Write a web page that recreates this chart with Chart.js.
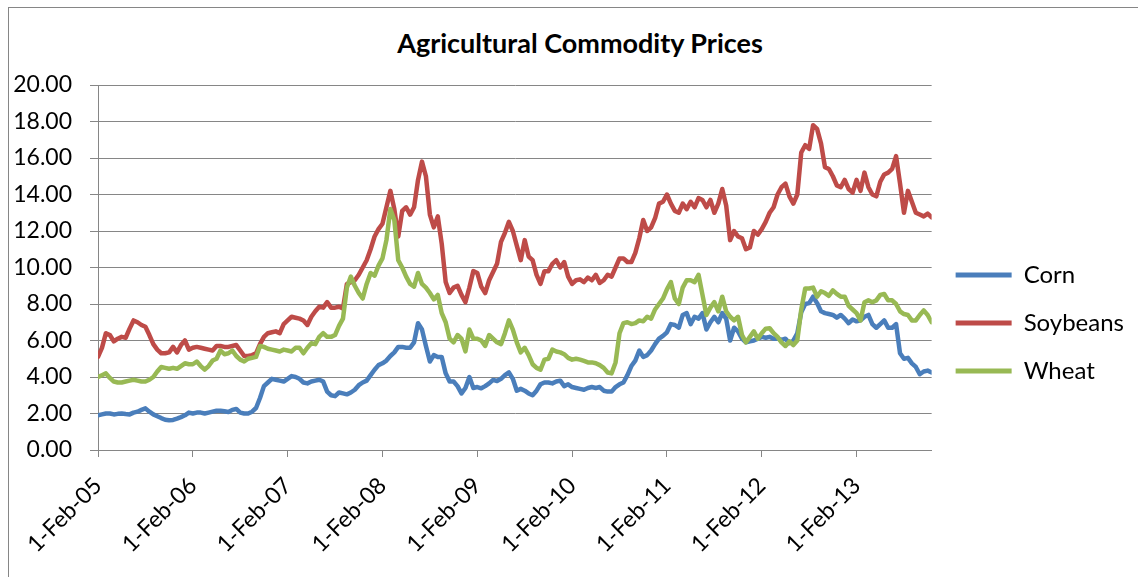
<!DOCTYPE html>
<html>
<head>
<meta charset="utf-8">
<title>Agricultural Commodity Prices</title>
<script src="https://cdn.jsdelivr.net/npm/chart.js@4.4.1/dist/chart.umd.min.js"></script>
<style>
  html, body { margin: 0; padding: 0; background: #fff; overflow: hidden; }
  #wrap { position: relative; width: 1138px; height: 577px; overflow: hidden; }
  #frame { position: absolute; left: 8px; top: 7px; width: 1140px; height: 580px;
           border: 1px solid #868686; box-sizing: border-box; }
  #title { position: absolute; left: 0; top: 29px; width: 1160px; text-align: center;
           font: bold 27px Lato, "Open Sans", sans-serif; line-height: 27px; color: #000; }
  #chart { position: absolute; left: 0; top: 0; }
</style>
</head>
<body>
<div id="wrap">
  <div id="frame"></div>
  <div id="title">Agricultural Commodity Prices</div>
  <canvas id="chart" width="1138" height="577"></canvas>
</div>
<script>
'use strict';

// one value every half month, starting 1-Feb-05
var seriesNames = ['Corn', 'Soybeans', 'Wheat'];

var corn = [
    1.9, 1.95, 2.0, 2.0, 1.95, 1.98, 2.0, 1.97, 1.95, 2.05,
    2.1, 2.2, 2.28, 2.1, 1.95, 1.85, 1.75, 1.66, 1.63, 1.65,
    1.72, 1.8, 1.9, 2.05, 2.0, 2.05, 2.05, 2.0, 2.05, 2.1,
    2.15, 2.15, 2.12, 2.08, 2.2, 2.25, 2.05, 2.0, 2.0, 2.1,
    2.3, 2.85, 3.5, 3.7, 3.9, 3.85, 3.8, 3.75, 3.9, 4.05,
    4.0, 3.9, 3.7, 3.65, 3.75, 3.8, 3.85, 3.75, 3.2, 3.0,
    2.95, 3.15, 3.1, 3.05, 3.15, 3.3, 3.55, 3.7, 3.8, 4.1,
    4.4, 4.65, 4.75, 4.9, 5.15, 5.35, 5.65, 5.65, 5.6, 5.6,
    5.9, 6.95, 6.6, 5.7, 4.85, 5.2, 5.1, 5.1, 4.2, 3.75,
    3.75, 3.5, 3.1, 3.4, 4.0, 3.4, 3.45, 3.38, 3.5, 3.65,
    3.84, 3.78, 3.9, 4.1, 4.25, 3.9, 3.25, 3.35, 3.25, 3.1,
    3.0, 3.25, 3.6, 3.7, 3.7, 3.65, 3.75, 3.8, 3.5, 3.6,
    3.45, 3.4, 3.35, 3.3, 3.4, 3.45, 3.4, 3.45, 3.25, 3.2,
    3.2, 3.45, 3.6, 3.7, 4.1, 4.6, 4.9, 5.45, 5.1, 5.2,
    5.45, 5.8, 6.1, 6.25, 6.45, 6.9, 6.85, 6.7, 7.4, 7.5,
    6.9, 7.3, 7.2, 7.5, 6.6, 7.0, 7.3, 7.0, 7.5, 7.2,
    6.0, 6.7, 6.5, 6.1, 5.9, 5.95, 6.0, 6.1, 6.2, 6.15,
    6.2, 6.1, 6.1, 6.03, 6.1, 5.85, 6.0, 6.4, 7.55, 8.0,
    8.05, 8.4, 8.05, 7.6, 7.5, 7.45, 7.4, 7.25, 7.4, 7.2,
    6.95, 7.15, 7.05, 7.1, 7.3, 7.4, 6.9, 6.7, 6.9, 7.1,
    6.7, 6.7, 6.9, 5.3, 5.0, 5.05, 4.75, 4.55, 4.15, 4.3,
    4.35, 4.25
];

var soybeans = [
    5.1, 5.6, 6.4, 6.3, 5.95, 6.1, 6.2, 6.15, 6.65, 7.1,
    7.0, 6.85, 6.75, 6.3, 5.8, 5.5, 5.3, 5.3, 5.35, 5.65,
    5.35, 5.75, 6.0, 5.5, 5.6, 5.65, 5.6, 5.55, 5.5, 5.45,
    5.7, 5.7, 5.65, 5.65, 5.7, 5.75, 5.45, 5.15, 5.15, 5.2,
    5.3, 5.8, 6.2, 6.4, 6.45, 6.5, 6.4, 6.9, 7.1, 7.3,
    7.25, 7.2, 7.1, 6.85, 7.3, 7.6, 7.85, 7.8, 8.1, 7.8,
    7.8, 7.85, 7.75, 9.1, 9.2, 9.3, 9.6, 10.0, 10.4, 11.0,
    11.7, 12.1, 12.4, 13.3, 14.2, 13.2, 11.7, 13.1, 13.3, 12.9,
    13.3, 14.8, 15.8, 15.0, 12.9, 12.2, 12.8, 11.3, 9.2, 8.6,
    8.9, 9.0, 8.5, 8.1, 8.9, 9.8, 9.7, 8.95, 8.6, 9.3,
    9.75, 10.2, 11.4, 11.9, 12.5, 12.0, 11.2, 10.4, 11.5, 10.6,
    10.4, 9.6, 9.1, 9.8, 9.8, 10.2, 10.4, 10.0, 10.3, 9.5,
    9.1, 9.3, 9.35, 9.2, 9.45, 9.3, 9.6, 9.15, 9.3, 9.6,
    9.5, 10.0, 10.5, 10.5, 10.3, 10.3, 10.8, 11.6, 12.6, 12.0,
    12.2, 12.7, 13.5, 13.6, 14.0, 13.5, 13.1, 13.0, 13.5, 13.2,
    13.6, 13.3, 13.8, 13.7, 13.3, 13.7, 13.0, 13.5, 14.3, 13.4,
    11.5, 12.0, 11.7, 11.6, 11.0, 11.1, 12.0, 11.8, 12.1, 12.5,
    13.0, 13.3, 14.0, 14.4, 14.6, 13.9, 13.5, 14.0, 16.3, 16.7,
    16.5, 17.8, 17.6, 16.8, 15.5, 15.4, 15.0, 14.5, 14.4, 14.8,
    14.3, 14.1, 14.8, 14.2, 15.2, 14.4, 14.0, 13.9, 14.7, 15.1,
    15.2, 15.4, 16.1, 14.6, 13.0, 14.2, 13.6, 13.0, 12.9, 12.8,
    12.95, 12.75
];

var wheat = [
    4.0, 4.1, 4.2, 3.95, 3.75, 3.7, 3.7, 3.75, 3.8, 3.85,
    3.8, 3.75, 3.75, 3.85, 4.0, 4.3, 4.55, 4.5, 4.45, 4.5,
    4.45, 4.6, 4.75, 4.7, 4.7, 4.85, 4.6, 4.4, 4.6, 4.9,
    5.0, 5.45, 5.25, 5.3, 5.45, 5.15, 4.95, 4.85, 5.0, 5.05,
    5.1, 5.7, 5.65, 5.55, 5.5, 5.45, 5.4, 5.5, 5.45, 5.4,
    5.6, 5.6, 5.3, 5.6, 5.85, 5.8, 6.2, 6.4, 6.2, 6.2,
    6.3, 6.8, 7.2, 8.9, 9.5, 9.0, 8.6, 8.3, 9.1, 9.7,
    9.55, 10.1, 10.5, 11.5, 13.2, 12.6, 10.4, 10.0, 9.5, 9.1,
    8.95, 9.7, 9.1, 8.9, 8.6, 8.25, 8.5, 7.5, 7.0, 6.1,
    5.9, 6.3, 6.1, 5.4, 6.6, 6.1, 6.1, 6.0, 5.7, 6.3,
    6.1, 5.9, 5.8, 6.4, 7.1, 6.6, 5.9, 5.35, 5.6, 5.2,
    4.7, 4.5, 4.4, 4.95, 5.0, 5.5, 5.4, 5.35, 5.25, 5.05,
    4.95, 5.0, 4.95, 4.88, 4.8, 4.8, 4.75, 4.65, 4.5, 4.25,
    4.2, 4.8, 6.4, 6.95, 7.0, 6.9, 6.95, 7.1, 7.05, 7.3,
    7.2, 7.7, 8.0, 8.3, 8.8, 9.2, 8.3, 8.0, 8.9, 9.3,
    9.3, 9.2, 9.6, 8.5, 7.4, 7.8, 8.1, 7.6, 8.4, 7.6,
    7.3, 7.1, 7.3, 6.3, 5.9, 6.2, 6.5, 6.1, 6.4, 6.65,
    6.67, 6.4, 6.2, 5.9, 5.7, 5.95, 5.75, 6.0, 7.7, 8.85,
    8.85, 8.9, 8.4, 8.7, 8.6, 8.45, 8.75, 8.55, 8.4, 8.4,
    7.9, 7.7, 7.5, 7.1, 8.1, 8.2, 8.1, 8.2, 8.5, 8.55,
    8.2, 8.2, 8.0, 7.6, 7.45, 7.4, 7.1, 7.1, 7.4, 7.65,
    7.4, 7.0
];

var tickLabels = ['1-Feb-05', '1-Feb-06', '1-Feb-07', '1-Feb-08', '1-Feb-09',
                  '1-Feb-10', '1-Feb-11', '1-Feb-12', '1-Feb-13'];
var yTicks = [0, 2, 4, 6, 8, 10, 12, 14, 16, 18, 20];

var colors = ['#4A7EBB', '#BE4B48', '#98B954'];
var perYear = 24; // half-month steps per year

function toPoints(values) {
    return values.map(function(v, i) { return { x: i, y: v }; });
}

Chart.defaults.font.family = 'Lato, "Open Sans", sans-serif';
Chart.defaults.color = '#000';

var datasets = [corn, soybeans, wheat].map(function(values, i) {
    return {
        label: seriesNames[i],
        data: toPoints(values),
        borderColor: colors[i],
        backgroundColor: colors[i],
        borderWidth: 4.5,
        pointRadius: 0,
        pointHoverRadius: 0,
        pointBorderWidth: 5,
        tension: 0,
        borderJoinStyle: 'round',
        borderCapStyle: 'round',
        order: 3 - i
    };
});

var ctx = document.getElementById('chart').getContext('2d');
new Chart(ctx, {
    type: 'line',
    data: { datasets: datasets },
    options: {
        responsive: false,
        animation: false,
        layout: { padding: { left: 0, right: 4, top: 85, bottom: 16 } },
        plugins: {
            legend: {
                position: 'right',
                labels: {
                    usePointStyle: true,
                    pointStyle: 'line',
                    pointStyleWidth: 56,
                    padding: 24,
                    font: { size: 24 },
                    sort: function(a, b) { return a.datasetIndex - b.datasetIndex; }
                }
            },
            tooltip: { enabled: false }
        },
        scales: {
            x: {
                type: 'linear',
                min: 0,
                max: corn.length - 1,
                grid: { drawOnChartArea: false, color: '#868686', tickLength: 7 },
                border: { color: '#868686' },
                afterBuildTicks: function(scale) {
                    scale.ticks = tickLabels.map(function(_, i) { return { value: i * perYear }; });
                },
                afterFit: function(scale) { scale.height = 111; },
                ticks: {
                    autoSkip: false,
                    minRotation: 45,
                    maxRotation: 45,
                    padding: 15,
                    font: { size: 23 },
                    callback: function(value, index) { return tickLabels[index]; }
                }
            },
            y: {
                min: 0,
                max: 20,
                grid: { color: '#868686', tickLength: 8 },
                border: { color: '#868686' },
                afterBuildTicks: function(scale) {
                    scale.ticks = yTicks.map(function(v) { return { value: v }; });
                },
                afterFit: function(scale) { scale.width = 98; },
                ticks: {
                    padding: 18,
                    font: { size: 23 },
                    callback: function(value) { return value.toFixed(2); }
                }
            }
        }
    }
});
</script>
</body>
</html>
